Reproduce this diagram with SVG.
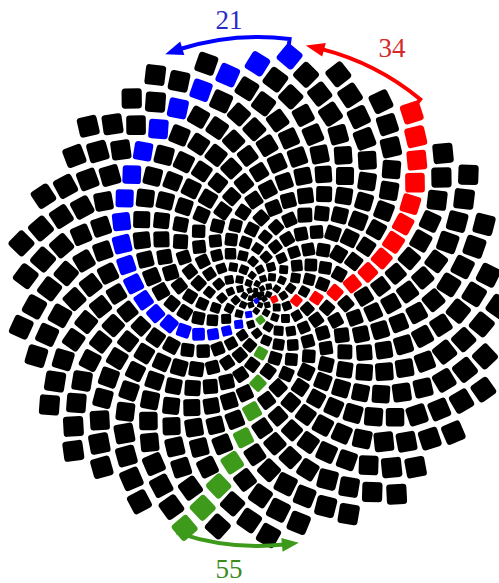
<svg xmlns="http://www.w3.org/2000/svg" width="499" height="583" viewBox="0 0 499 583">
<style>
#seeds{fill:#000}
.r{fill:#ff0000}
.b{fill:#0000ff}
.g{fill:#3d9a1b}
.arc{fill:none;stroke-width:4}
text{font-family:"Liberation Serif","Times New Roman",serif;font-size:27px;text-anchor:middle}
</style>
<defs>
<rect id="c4" x="-2.5" y="-2.5" width="5" height="5" rx="0.7" transform="rotate(32)"/>
<rect id="c5" x="-2.8" y="-2.8" width="5.6" height="5.6" rx="0.8" transform="rotate(32)"/>
<rect id="c6" x="-3.1" y="-3.1" width="6.2" height="6.2" rx="0.9" transform="rotate(32)"/>
<rect id="c7" x="-3.5" y="-3.5" width="7" height="7" rx="1" transform="rotate(55)"/>
<rect id="c8" x="-3.95" y="-3.95" width="7.9" height="7.9" rx="1.2" transform="rotate(58)"/>
<rect id="c9" x="-4.45" y="-4.45" width="8.9" height="8.9" rx="1.4" transform="rotate(50)"/>
<rect id="c10" x="-5" y="-5" width="10" height="10" rx="1.6" transform="rotate(34)"/>
<rect id="c11" x="-5.75" y="-5.75" width="11.5" height="11.5" rx="1.8" transform="rotate(32)"/>
<rect id="c12" x="-6.35" y="-6.35" width="12.7" height="12.7" rx="2" transform="rotate(32)"/>
<rect id="c13" x="-6.7" y="-6.7" width="13.4" height="13.4" rx="2.1" transform="rotate(44)"/>
<rect id="c14" x="-7.45" y="-7.45" width="14.9" height="14.9" rx="2.3" transform="rotate(58)"/>
<rect id="c15" x="-8" y="-8" width="16" height="16" rx="2.5" transform="rotate(58)"/>
<rect id="c16" x="-8.5" y="-8.5" width="17" height="17" rx="2.7" transform="rotate(58)"/>
<rect id="c17" x="-9" y="-9" width="18" height="18" rx="2.9" transform="rotate(55)"/>
<rect id="c18" x="-9.25" y="-9.25" width="18.5" height="18.5" rx="3" transform="rotate(48)"/>
<rect id="c19" x="-9.8" y="-9.8" width="19.6" height="19.6" rx="3.2" transform="rotate(35)"/>
<rect id="c20" x="-10.1" y="-10.1" width="20.2" height="20.2" rx="3.4" transform="rotate(32)"/>
</defs>
<rect width="499" height="583" fill="#fff"/>
<g id="seeds" transform="translate(258,296) rotate(141.4)">
<g>
<use href="#c4" transform="rotate(137.51)translate(1.3)"/>
<use href="#c4" transform="rotate(275.02)translate(2.3)"/>
<use href="#c4" transform="rotate(52.52)translate(3.3)"/>
<use href="#c4" transform="rotate(190.03)translate(4.2)"/>
<use href="#c4" class="b" transform="rotate(327.54)translate(5.1)"/>
<use href="#c4" transform="rotate(105.05)translate(6)"/>
<use href="#c5" transform="rotate(242.55)translate(6.8)"/>
<use href="#c5" transform="rotate(20.06)translate(7.6)"/>
<use href="#c5" transform="rotate(157.57)translate(8.4)"/>
</g>
<g transform="rotate(295.08)">
<use href="#c5" transform="translate(9.2)"/>
<use href="#c5" transform="rotate(137.51)translate(9.9)"/>
<use href="#c6" transform="rotate(275.02)translate(10.7)"/>
<use href="#c6" transform="rotate(52.52)translate(11.4)"/>
<use href="#c6" transform="rotate(190.03)translate(12.2)"/>
<use href="#c6" transform="rotate(327.54)translate(12.9)"/>
<use href="#c6" transform="rotate(105.05)translate(13.6)"/>
<use href="#c6" transform="rotate(242.55)translate(14.4)"/>
<use href="#c6" transform="rotate(20.06)translate(15.1)"/>
<use href="#c7" transform="rotate(157.57)translate(15.9)"/>
</g>
<g transform="rotate(230.16)">
<use href="#c7" class="r" transform="translate(16.6)"/>
<use href="#c7" transform="rotate(137.51)translate(17.3)"/>
<use href="#c7" transform="rotate(275.02)translate(18)"/>
<use href="#c7" transform="rotate(52.52)translate(18.6)"/>
<use href="#c7" transform="rotate(190.03)translate(19.3)"/>
<use href="#c7" transform="rotate(327.54)translate(20)"/>
<use href="#c7" class="b" transform="rotate(105.05)translate(20.7)"/>
<use href="#c7" transform="rotate(242.55)translate(21.4)"/>
<use href="#c8" transform="rotate(20.06)translate(22)"/>
<use href="#c8" transform="rotate(157.57)translate(22.7)"/>
</g>
<g transform="rotate(165.23)">
<use href="#c8" transform="translate(23.4)"/>
<use href="#c8" class="g" transform="rotate(137.51)translate(24.1)"/>
<use href="#c8" transform="rotate(275.02)translate(24.7)"/>
<use href="#c8" transform="rotate(52.52)translate(25.4)"/>
<use href="#c8" transform="rotate(190.03)translate(26)"/>
<use href="#c8" transform="rotate(327.54)translate(26.7)"/>
<use href="#c8" transform="rotate(105.05)translate(27.3)"/>
<use href="#c8" transform="rotate(242.55)translate(28)"/>
<use href="#c8" transform="rotate(20.06)translate(28.6)"/>
<use href="#c8" transform="rotate(157.57)translate(29.3)"/>
</g>
<g transform="rotate(100.31)">
<use href="#c9" transform="translate(29.9)"/>
<use href="#c9" transform="rotate(137.51)translate(30.5)"/>
<use href="#c9" transform="rotate(275.02)translate(31.2)"/>
<use href="#c9" transform="rotate(52.52)translate(31.8)"/>
<use href="#c9" transform="rotate(190.03)translate(32.4)"/>
<use href="#c9" transform="rotate(327.54)translate(33)"/>
<use href="#c9" transform="rotate(105.05)translate(33.6)"/>
<use href="#c9" class="b" transform="rotate(242.55)translate(34.3)"/>
<use href="#c9" transform="rotate(20.06)translate(34.9)"/>
<use href="#c9" transform="rotate(157.57)translate(35.5)"/>
</g>
<g transform="rotate(35.39)">
<use href="#c9" transform="translate(36.1)"/>
<use href="#c9" transform="rotate(137.51)translate(36.8)"/>
<use href="#c9" transform="rotate(275.02)translate(37.4)"/>
<use href="#c9" transform="rotate(52.52)translate(38)"/>
<use href="#c10" class="r" transform="rotate(190.03)translate(38.6)"/>
<use href="#c10" transform="rotate(327.54)translate(39.2)"/>
<use href="#c10" transform="rotate(105.05)translate(39.8)"/>
<use href="#c10" transform="rotate(242.55)translate(40.4)"/>
<use href="#c10" transform="rotate(20.06)translate(41)"/>
<use href="#c10" transform="rotate(157.57)translate(41.6)"/>
</g>
<g transform="rotate(330.47)">
<use href="#c10" transform="translate(42.2)"/>
<use href="#c10" transform="rotate(137.51)translate(42.8)"/>
<use href="#c10" transform="rotate(275.02)translate(43.4)"/>
<use href="#c10" transform="rotate(52.52)translate(44)"/>
<use href="#c10" transform="rotate(190.03)translate(44.6)"/>
<use href="#c10" transform="rotate(327.54)translate(45.2)"/>
<use href="#c10" transform="rotate(105.05)translate(45.8)"/>
<use href="#c10" transform="rotate(242.55)translate(46.3)"/>
<use href="#c10" class="b" transform="rotate(20.06)translate(46.9)"/>
<use href="#c10" transform="rotate(157.57)translate(47.5)"/>
</g>
<g transform="rotate(265.54)">
<use href="#c10" transform="translate(48.1)"/>
<use href="#c10" transform="rotate(137.51)translate(48.7)"/>
<use href="#c11" transform="rotate(275.02)translate(49.3)"/>
<use href="#c11" transform="rotate(52.52)translate(49.9)"/>
<use href="#c11" transform="rotate(190.03)translate(50.4)"/>
<use href="#c11" transform="rotate(327.54)translate(51)"/>
<use href="#c11" transform="rotate(105.05)translate(51.6)"/>
<use href="#c11" transform="rotate(242.55)translate(52.2)"/>
<use href="#c11" transform="rotate(20.06)translate(52.7)"/>
<use href="#c11" transform="rotate(157.57)translate(53.3)"/>
</g>
<g transform="rotate(200.62)">
<use href="#c11" transform="translate(53.9)"/>
<use href="#c11" transform="rotate(137.51)translate(54.5)"/>
<use href="#c11" transform="rotate(275.02)translate(55)"/>
<use href="#c11" transform="rotate(52.52)translate(55.6)"/>
<use href="#c11" transform="rotate(190.03)translate(56.2)"/>
<use href="#c11" transform="rotate(327.54)translate(56.7)"/>
<use href="#c11" class="g" transform="rotate(105.05)translate(57.3)"/>
<use href="#c11" transform="rotate(242.55)translate(57.9)"/>
<use href="#c11" class="r" transform="rotate(20.06)translate(58.4)"/>
<use href="#c11" class="b" transform="rotate(157.57)translate(59)"/>
</g>
<g transform="rotate(135.70)">
<use href="#c11" transform="translate(59.6)"/>
<use href="#c11" transform="rotate(137.51)translate(60.1)"/>
<use href="#c12" transform="rotate(275.02)translate(60.7)"/>
<use href="#c12" transform="rotate(52.52)translate(61.3)"/>
<use href="#c12" transform="rotate(190.03)translate(61.8)"/>
<use href="#c12" transform="rotate(327.54)translate(62.4)"/>
<use href="#c12" transform="rotate(105.05)translate(62.9)"/>
<use href="#c12" transform="rotate(242.55)translate(63.5)"/>
<use href="#c12" transform="rotate(20.06)translate(64)"/>
<use href="#c12" transform="rotate(157.57)translate(64.6)"/>
</g>
<g transform="rotate(70.78)">
<use href="#c12" transform="translate(65.2)"/>
<use href="#c12" transform="rotate(137.51)translate(65.7)"/>
<use href="#c12" transform="rotate(275.02)translate(66.3)"/>
<use href="#c12" transform="rotate(52.52)translate(66.8)"/>
<use href="#c12" transform="rotate(190.03)translate(67.4)"/>
<use href="#c12" transform="rotate(327.54)translate(67.9)"/>
<use href="#c12" transform="rotate(105.05)translate(68.5)"/>
<use href="#c12" transform="rotate(242.55)translate(69)"/>
<use href="#c12" transform="rotate(20.06)translate(69.6)"/>
<use href="#c12" transform="rotate(157.57)translate(70.1)"/>
</g>
<g transform="rotate(5.85)">
<use href="#c12" class="b" transform="translate(70.7)"/>
<use href="#c12" transform="rotate(137.51)translate(71.2)"/>
<use href="#c12" transform="rotate(275.02)translate(71.7)"/>
<use href="#c12" transform="rotate(52.52)translate(72.3)"/>
<use href="#c12" transform="rotate(190.03)translate(72.8)"/>
<use href="#c12" transform="rotate(327.54)translate(73.4)"/>
<use href="#c12" transform="rotate(105.05)translate(73.9)"/>
<use href="#c13" transform="rotate(242.55)translate(74.5)"/>
<use href="#c13" transform="rotate(20.06)translate(75)"/>
<use href="#c13" transform="rotate(157.57)translate(75.5)"/>
</g>
<g transform="rotate(300.93)">
<use href="#c13" transform="translate(76.1)"/>
<use href="#c13" transform="rotate(137.51)translate(76.6)"/>
<use href="#c13" class="r" transform="rotate(275.02)translate(77.2)"/>
<use href="#c13" transform="rotate(52.52)translate(77.7)"/>
<use href="#c13" transform="rotate(190.03)translate(78.2)"/>
<use href="#c13" transform="rotate(327.54)translate(78.8)"/>
<use href="#c13" transform="rotate(105.05)translate(79.3)"/>
<use href="#c13" transform="rotate(242.55)translate(79.8)"/>
<use href="#c13" transform="rotate(20.06)translate(80.4)"/>
<use href="#c13" transform="rotate(157.57)translate(80.9)"/>
</g>
<g transform="rotate(236.01)">
<use href="#c13" transform="translate(81.4)"/>
<use href="#c13" class="b" transform="rotate(137.51)translate(82)"/>
<use href="#c13" transform="rotate(275.02)translate(82.5)"/>
<use href="#c13" transform="rotate(52.52)translate(83)"/>
<use href="#c13" transform="rotate(190.03)translate(83.6)"/>
<use href="#c13" transform="rotate(327.54)translate(84.1)"/>
<use href="#c13" transform="rotate(105.05)translate(84.6)"/>
<use href="#c13" transform="rotate(242.55)translate(85.1)"/>
<use href="#c13" transform="rotate(20.06)translate(85.7)"/>
<use href="#c13" transform="rotate(157.57)translate(86.2)"/>
</g>
<g transform="rotate(171.09)">
<use href="#c13" transform="translate(86.7)"/>
<use href="#c13" class="g" transform="rotate(137.51)translate(87.3)"/>
<use href="#c13" transform="rotate(275.02)translate(87.8)"/>
<use href="#c13" transform="rotate(52.52)translate(88.3)"/>
<use href="#c13" transform="rotate(190.03)translate(88.8)"/>
<use href="#c14" transform="rotate(327.54)translate(89.4)"/>
<use href="#c14" transform="rotate(105.05)translate(89.9)"/>
<use href="#c14" transform="rotate(242.55)translate(90.4)"/>
<use href="#c14" transform="rotate(20.06)translate(90.9)"/>
<use href="#c14" transform="rotate(157.57)translate(91.4)"/>
</g>
<g transform="rotate(106.16)">
<use href="#c14" transform="translate(92)"/>
<use href="#c14" transform="rotate(137.51)translate(92.5)"/>
<use href="#c14" class="b" transform="rotate(275.02)translate(93)"/>
<use href="#c14" transform="rotate(52.52)translate(93.5)"/>
<use href="#c14" transform="rotate(190.03)translate(94)"/>
<use href="#c14" transform="rotate(327.54)translate(94.6)"/>
<use href="#c14" class="r" transform="rotate(105.05)translate(95.1)"/>
<use href="#c14" transform="rotate(242.55)translate(95.6)"/>
<use href="#c14" transform="rotate(20.06)translate(96.1)"/>
<use href="#c14" transform="rotate(157.57)translate(96.6)"/>
</g>
<g transform="rotate(41.24)">
<use href="#c14" transform="translate(97.1)"/>
<use href="#c14" transform="rotate(137.51)translate(97.7)"/>
<use href="#c14" transform="rotate(275.02)translate(98.2)"/>
<use href="#c14" transform="rotate(52.52)translate(98.7)"/>
<use href="#c14" transform="rotate(190.03)translate(99.2)"/>
<use href="#c14" transform="rotate(327.54)translate(99.7)"/>
<use href="#c14" transform="rotate(105.05)translate(100.2)"/>
<use href="#c14" transform="rotate(242.55)translate(100.7)"/>
<use href="#c14" transform="rotate(20.06)translate(101.3)"/>
<use href="#c14" transform="rotate(157.57)translate(101.8)"/>
</g>
<g transform="rotate(336.32)">
<use href="#c14" transform="translate(102.3)"/>
<use href="#c14" transform="rotate(137.51)translate(102.8)"/>
<use href="#c14" transform="rotate(275.02)translate(103.3)"/>
<use href="#c14" class="b" transform="rotate(52.52)translate(103.8)"/>
<use href="#c14" transform="rotate(190.03)translate(104.3)"/>
<use href="#c14" transform="rotate(327.54)translate(104.8)"/>
<use href="#c14" transform="rotate(105.05)translate(105.3)"/>
<use href="#c15" transform="rotate(242.55)translate(105.9)"/>
<use href="#c15" transform="rotate(20.06)translate(106.4)"/>
<use href="#c15" transform="rotate(157.57)translate(106.9)"/>
</g>
<g transform="rotate(271.40)">
<use href="#c15" transform="translate(107.4)"/>
<use href="#c15" transform="rotate(137.51)translate(107.9)"/>
<use href="#c15" transform="rotate(275.02)translate(108.4)"/>
<use href="#c15" transform="rotate(52.52)translate(108.9)"/>
<use href="#c15" transform="rotate(190.03)translate(109.4)"/>
<use href="#c15" transform="rotate(327.54)translate(109.9)"/>
<use href="#c15" transform="rotate(105.05)translate(110.4)"/>
<use href="#c15" transform="rotate(242.55)translate(110.9)"/>
<use href="#c15" transform="rotate(20.06)translate(111.4)"/>
<use href="#c15" transform="rotate(157.57)translate(111.9)"/>
</g>
<g transform="rotate(206.47)">
<use href="#c15" class="r" transform="translate(112.4)"/>
<use href="#c15" transform="rotate(137.51)translate(112.9)"/>
<use href="#c15" transform="rotate(275.02)translate(113.4)"/>
<use href="#c15" transform="rotate(52.52)translate(113.9)"/>
<use href="#c15" class="b" transform="rotate(190.03)translate(114.4)"/>
<use href="#c15" transform="rotate(327.54)translate(114.9)"/>
<use href="#c15" class="g" transform="rotate(105.05)translate(115.4)"/>
<use href="#c15" transform="rotate(242.55)translate(115.9)"/>
<use href="#c15" transform="rotate(20.06)translate(116.4)"/>
<use href="#c15" transform="rotate(157.57)translate(117)"/>
</g>
<g transform="rotate(141.55)">
<use href="#c15" transform="translate(117.5)"/>
<use href="#c15" transform="rotate(137.51)translate(118)"/>
<use href="#c15" transform="rotate(275.02)translate(118.4)"/>
<use href="#c15" transform="rotate(52.52)translate(118.9)"/>
<use href="#c15" transform="rotate(190.03)translate(119.4)"/>
<use href="#c15" transform="rotate(327.54)translate(119.9)"/>
<use href="#c15" transform="rotate(105.05)translate(120.4)"/>
<use href="#c15" transform="rotate(242.55)translate(120.9)"/>
<use href="#c15" transform="rotate(20.06)translate(121.4)"/>
<use href="#c15" transform="rotate(157.57)translate(121.9)"/>
</g>
<g transform="rotate(76.63)">
<use href="#c15" transform="translate(122.4)"/>
<use href="#c15" transform="rotate(137.51)translate(122.9)"/>
<use href="#c15" transform="rotate(275.02)translate(123.4)"/>
<use href="#c15" transform="rotate(52.52)translate(123.9)"/>
<use href="#c16" transform="rotate(190.03)translate(124.4)"/>
<use href="#c16" class="b" transform="rotate(327.54)translate(124.9)"/>
<use href="#c16" transform="rotate(105.05)translate(125.4)"/>
<use href="#c16" transform="rotate(242.55)translate(125.9)"/>
<use href="#c16" transform="rotate(20.06)translate(126.4)"/>
<use href="#c16" transform="rotate(157.57)translate(126.9)"/>
</g>
<g transform="rotate(11.71)">
<use href="#c16" transform="translate(127.4)"/>
<use href="#c16" transform="rotate(137.51)translate(127.9)"/>
<use href="#c16" transform="rotate(275.02)translate(128.3)"/>
<use href="#c16" transform="rotate(52.52)translate(128.8)"/>
<use href="#c16" class="r" transform="rotate(190.03)translate(129.3)"/>
<use href="#c16" transform="rotate(327.54)translate(129.8)"/>
<use href="#c16" transform="rotate(105.05)translate(130.3)"/>
<use href="#c16" transform="rotate(242.55)translate(130.8)"/>
<use href="#c16" transform="rotate(20.06)translate(131.3)"/>
<use href="#c16" transform="rotate(157.57)translate(131.8)"/>
</g>
<g transform="rotate(306.79)">
<use href="#c16" transform="translate(132.3)"/>
<use href="#c16" transform="rotate(137.51)translate(132.8)"/>
<use href="#c16" transform="rotate(275.02)translate(133.2)"/>
<use href="#c16" transform="rotate(52.52)translate(133.7)"/>
<use href="#c16" transform="rotate(190.03)translate(134.2)"/>
<use href="#c16" transform="rotate(327.54)translate(134.7)"/>
<use href="#c16" class="b" transform="rotate(105.05)translate(135.2)"/>
<use href="#c16" transform="rotate(242.55)translate(135.7)"/>
<use href="#c16" transform="rotate(20.06)translate(136.2)"/>
<use href="#c16" transform="rotate(157.57)translate(136.7)"/>
</g>
<g transform="rotate(241.86)">
<use href="#c16" transform="translate(137.1)"/>
<use href="#c16" transform="rotate(137.51)translate(137.6)"/>
<use href="#c16" transform="rotate(275.02)translate(138.1)"/>
<use href="#c16" transform="rotate(52.52)translate(138.6)"/>
<use href="#c16" transform="rotate(190.03)translate(139.1)"/>
<use href="#c16" transform="rotate(327.54)translate(139.6)"/>
<use href="#c16" transform="rotate(105.05)translate(140)"/>
<use href="#c16" transform="rotate(242.55)translate(140.5)"/>
<use href="#c16" transform="rotate(20.06)translate(141)"/>
<use href="#c16" transform="rotate(157.57)translate(141.5)"/>
</g>
<g transform="rotate(176.94)">
<use href="#c16" transform="translate(142)"/>
<use href="#c16" class="g" transform="rotate(137.51)translate(142.5)"/>
<use href="#c16" transform="rotate(275.02)translate(142.9)"/>
<use href="#c16" transform="rotate(52.52)translate(143.4)"/>
<use href="#c16" transform="rotate(190.03)translate(143.9)"/>
<use href="#c17" transform="rotate(327.54)translate(144.4)"/>
<use href="#c17" transform="rotate(105.05)translate(144.9)"/>
<use href="#c17" class="b" transform="rotate(242.55)translate(145.4)"/>
<use href="#c17" class="r" transform="rotate(20.06)translate(145.8)"/>
<use href="#c17" transform="rotate(157.57)translate(146.3)"/>
</g>
<g transform="rotate(112.02)">
<use href="#c17" transform="translate(146.8)"/>
<use href="#c17" transform="rotate(137.51)translate(147.3)"/>
<use href="#c17" transform="rotate(275.02)translate(147.7)"/>
<use href="#c17" transform="rotate(52.52)translate(148.2)"/>
<use href="#c17" transform="rotate(190.03)translate(148.7)"/>
<use href="#c17" transform="rotate(327.54)translate(149.2)"/>
<use href="#c17" transform="rotate(105.05)translate(149.7)"/>
<use href="#c17" transform="rotate(242.55)translate(150.1)"/>
<use href="#c17" transform="rotate(20.06)translate(150.6)"/>
<use href="#c17" transform="rotate(157.57)translate(151.1)"/>
</g>
<g transform="rotate(47.10)">
<use href="#c17" transform="translate(151.6)"/>
<use href="#c17" transform="rotate(137.51)translate(152)"/>
<use href="#c17" transform="rotate(275.02)translate(152.5)"/>
<use href="#c17" transform="rotate(52.52)translate(153)"/>
<use href="#c17" transform="rotate(190.03)translate(153.5)"/>
<use href="#c17" transform="rotate(327.54)translate(154)"/>
<use href="#c17" transform="rotate(105.05)translate(154.4)"/>
<use href="#c17" transform="rotate(242.55)translate(154.9)"/>
<use href="#c17" class="b" transform="rotate(20.06)translate(155.4)"/>
<use href="#c17" transform="rotate(157.57)translate(155.9)"/>
</g>
<g transform="rotate(342.17)">
<use href="#c17" transform="translate(156.3)"/>
<use href="#c17" transform="rotate(137.51)translate(156.8)"/>
<use href="#c17" transform="rotate(275.02)translate(157.3)"/>
<use href="#c17" transform="rotate(52.52)translate(157.8)"/>
<use href="#c17" transform="rotate(190.03)translate(158.2)"/>
<use href="#c17" transform="rotate(327.54)translate(158.7)"/>
<use href="#c17" transform="rotate(105.05)translate(159.2)"/>
<use href="#c17" transform="rotate(242.55)translate(159.7)"/>
<use href="#c17" transform="rotate(20.06)translate(160.1)"/>
<use href="#c17" transform="rotate(157.57)translate(160.6)"/>
</g>
<g transform="rotate(277.25)">
<use href="#c17" transform="translate(161.1)"/>
<use href="#c17" transform="rotate(137.51)translate(161.5)"/>
<use href="#c17" class="r" transform="rotate(275.02)translate(162)"/>
<use href="#c17" transform="rotate(52.52)translate(162.5)"/>
<use href="#c17" transform="rotate(190.03)translate(163)"/>
<use href="#c17" transform="rotate(327.54)translate(163.4)"/>
<use href="#c17" transform="rotate(105.05)translate(163.9)"/>
<use href="#c17" transform="rotate(242.55)translate(164.4)"/>
<use href="#c17" transform="rotate(20.06)translate(164.8)"/>
<use href="#c17" class="b" transform="rotate(157.57)translate(165.3)"/>
</g>
<g transform="rotate(212.33)">
<use href="#c17" transform="translate(165.8)"/>
<use href="#c18" transform="rotate(137.51)translate(166.2)"/>
<use href="#c18" transform="rotate(275.02)translate(166.7)"/>
<use href="#c18" transform="rotate(52.52)translate(167.2)"/>
<use href="#c18" transform="rotate(190.03)translate(167.6)"/>
<use href="#c18" transform="rotate(327.54)translate(168.1)"/>
<use href="#c18" class="g" transform="rotate(105.05)translate(168.6)"/>
<use href="#c18" transform="rotate(242.55)translate(169.1)"/>
<use href="#c18" transform="rotate(20.06)translate(169.5)"/>
<use href="#c18" transform="rotate(157.57)translate(170)"/>
</g>
<g transform="rotate(147.41)">
<use href="#c18" transform="translate(170.5)"/>
<use href="#c18" transform="rotate(137.51)translate(170.9)"/>
<use href="#c18" transform="rotate(275.02)translate(171.4)"/>
<use href="#c18" transform="rotate(52.52)translate(171.9)"/>
<use href="#c18" transform="rotate(190.03)translate(172.3)"/>
<use href="#c18" transform="rotate(327.54)translate(172.8)"/>
<use href="#c18" transform="rotate(105.05)translate(173.2)"/>
<use href="#c18" transform="rotate(242.55)translate(173.7)"/>
<use href="#c18" transform="rotate(20.06)translate(174.2)"/>
<use href="#c18" transform="rotate(157.57)translate(174.6)"/>
</g>
<g transform="rotate(82.48)">
<use href="#c18" class="b" transform="translate(175.1)"/>
<use href="#c18" transform="rotate(137.51)translate(175.6)"/>
<use href="#c18" transform="rotate(275.02)translate(176)"/>
<use href="#c18" transform="rotate(52.52)translate(176.5)"/>
<use href="#c18" transform="rotate(190.03)translate(177)"/>
<use href="#c18" transform="rotate(327.54)translate(177.4)"/>
<use href="#c18" class="r" transform="rotate(105.05)translate(177.9)"/>
<use href="#c18" transform="rotate(242.55)translate(178.4)"/>
<use href="#c18" transform="rotate(20.06)translate(178.8)"/>
<use href="#c18" transform="rotate(157.57)translate(179.3)"/>
</g>
<g transform="rotate(17.56)">
<use href="#c18" transform="translate(179.8)"/>
<use href="#c18" transform="rotate(137.51)translate(180.2)"/>
<use href="#c18" transform="rotate(275.02)translate(180.7)"/>
<use href="#c18" transform="rotate(52.52)translate(181.1)"/>
<use href="#c18" transform="rotate(190.03)translate(181.6)"/>
<use href="#c18" transform="rotate(327.54)translate(182.1)"/>
<use href="#c18" transform="rotate(105.05)translate(182.5)"/>
<use href="#c18" transform="rotate(242.55)translate(183)"/>
<use href="#c18" transform="rotate(20.06)translate(183.5)"/>
<use href="#c18" transform="rotate(157.57)translate(183.9)"/>
</g>
<g transform="rotate(312.64)">
<use href="#c18" transform="translate(184.4)"/>
<use href="#c18" class="b" transform="rotate(137.51)translate(184.8)"/>
<use href="#c18" transform="rotate(275.02)translate(185.3)"/>
<use href="#c18" transform="rotate(52.52)translate(185.8)"/>
<use href="#c18" transform="rotate(190.03)translate(186.2)"/>
<use href="#c18" transform="rotate(327.54)translate(186.7)"/>
<use href="#c18" transform="rotate(105.05)translate(187.1)"/>
<use href="#c18" transform="rotate(242.55)translate(187.6)"/>
<use href="#c18" transform="rotate(20.06)translate(188)"/>
<use href="#c18" transform="rotate(157.57)translate(188.5)"/>
</g>
<g transform="rotate(247.72)">
<use href="#c18" transform="translate(189)"/>
<use href="#c18" transform="rotate(137.51)translate(189.4)"/>
<use href="#c19" transform="rotate(275.02)translate(189.9)"/>
<use href="#c19" transform="rotate(52.52)translate(190.3)"/>
<use href="#c19" transform="rotate(190.03)translate(190.8)"/>
<use href="#c19" transform="rotate(327.54)translate(191.3)"/>
<use href="#c19" transform="rotate(105.05)translate(191.7)"/>
<use href="#c19" transform="rotate(242.55)translate(192.2)"/>
<use href="#c19" transform="rotate(20.06)translate(192.6)"/>
<use href="#c19" transform="rotate(157.57)translate(193.1)"/>
</g>
<g transform="rotate(182.79)">
<use href="#c19" class="r" transform="translate(193.6)"/>
<use href="#c19" class="g" transform="rotate(137.51)translate(194)"/>
<use href="#c19" class="b" transform="rotate(275.02)translate(194.5)"/>
<use href="#c19" transform="rotate(52.52)translate(194.9)"/>
<use href="#c19" transform="rotate(190.03)translate(195.4)"/>
<use href="#c19" transform="rotate(327.54)translate(195.8)"/>
<use href="#c19" transform="rotate(105.05)translate(196.3)"/>
<use href="#c19" transform="rotate(242.55)translate(196.8)"/>
<use href="#c19" transform="rotate(20.06)translate(197.2)"/>
<use href="#c19" transform="rotate(157.57)translate(197.7)"/>
</g>
<g transform="rotate(117.87)">
<use href="#c19" transform="translate(198.1)"/>
<use href="#c19" transform="rotate(137.51)translate(198.6)"/>
<use href="#c19" transform="rotate(275.02)translate(199)"/>
<use href="#c19" transform="rotate(52.52)translate(199.5)"/>
<use href="#c19" transform="rotate(190.03)translate(199.9)"/>
<use href="#c19" transform="rotate(327.54)translate(200.4)"/>
<use href="#c19" transform="rotate(105.05)translate(200.9)"/>
<use href="#c19" transform="rotate(242.55)translate(201.3)"/>
<use href="#c19" transform="rotate(20.06)translate(201.8)"/>
<use href="#c19" transform="rotate(157.57)translate(202.2)"/>
</g>
<g transform="rotate(52.95)">
<use href="#c19" transform="translate(202.7)"/>
<use href="#c19" transform="rotate(137.51)translate(203.1)"/>
<use href="#c19" transform="rotate(275.02)translate(203.6)"/>
<use href="#c19" class="b" transform="rotate(52.52)translate(204)"/>
<use href="#c19" transform="rotate(190.03)translate(204.5)"/>
<use href="#c19" transform="rotate(327.54)translate(204.9)"/>
<use href="#c19" transform="rotate(105.05)translate(205.4)"/>
<use href="#c19" transform="rotate(242.55)translate(205.8)"/>
<use href="#c19" transform="rotate(20.06)translate(206.3)"/>
<use href="#c19" transform="rotate(157.57)translate(206.7)"/>
</g>
<g transform="rotate(348.03)">
<use href="#c19" transform="translate(207.2)"/>
<use href="#c19" transform="rotate(137.51)translate(207.6)"/>
<use href="#c19" transform="rotate(275.02)translate(208.1)"/>
<use href="#c19" transform="rotate(52.52)translate(208.5)"/>
<use href="#c19" class="r" transform="rotate(190.03)translate(209)"/>
<use href="#c19" transform="rotate(327.54)translate(209.4)"/>
<use href="#c19" transform="rotate(105.05)translate(209.9)"/>
<use href="#c19" transform="rotate(242.55)translate(210.3)"/>
<use href="#c19" transform="rotate(20.06)translate(210.8)"/>
<use href="#c19" transform="rotate(157.57)translate(211.2)"/>
</g>
<g transform="rotate(283.10)">
<use href="#c19" transform="translate(211.7)"/>
<use href="#c19" transform="rotate(137.51)translate(212.1)"/>
<use href="#c19" transform="rotate(275.02)translate(212.6)"/>
<use href="#c19" transform="rotate(52.52)translate(213)"/>
<use href="#c19" class="b" transform="rotate(190.03)translate(213.5)"/>
<use href="#c19" transform="rotate(327.54)translate(213.9)"/>
<use href="#c19" transform="rotate(105.05)translate(214.4)"/>
<use href="#c19" transform="rotate(242.55)translate(214.8)"/>
<use href="#c20" transform="rotate(20.06)translate(215.3)"/>
<use href="#c20" transform="rotate(157.57)translate(215.7)"/>
</g>
<g transform="rotate(218.18)">
<use href="#c20" transform="translate(216.2)"/>
<use href="#c20" transform="rotate(137.51)translate(216.6)"/>
<use href="#c20" transform="rotate(275.02)translate(217.1)"/>
<use href="#c20" transform="rotate(52.52)translate(217.5)"/>
<use href="#c20" transform="rotate(190.03)translate(218)"/>
<use href="#c20" transform="rotate(327.54)translate(218.4)"/>
<use href="#c20" class="g" transform="rotate(105.05)translate(218.9)"/>
<use href="#c20" transform="rotate(242.55)translate(219.3)"/>
<use href="#c20" transform="rotate(20.06)translate(219.8)"/>
<use href="#c20" transform="rotate(157.57)translate(220.2)"/>
</g>
<g transform="rotate(153.26)">
<use href="#c20" transform="translate(220.7)"/>
<use href="#c20" transform="rotate(137.51)translate(221.1)"/>
<use href="#c20" transform="rotate(275.02)translate(221.5)"/>
<use href="#c20" transform="rotate(52.52)translate(222)"/>
<use href="#c20" transform="rotate(190.03)translate(222.4)"/>
<use href="#c20" class="b" transform="rotate(327.54)translate(222.9)"/>
<use href="#c20" transform="rotate(105.05)translate(223.3)"/>
<use href="#c20" transform="rotate(242.55)translate(223.8)"/>
<use href="#c20" class="r" transform="rotate(20.06)translate(224.2)"/>
<use href="#c20" transform="rotate(157.57)translate(224.7)"/>
</g>
<g transform="rotate(88.34)">
<use href="#c20" transform="translate(225.1)"/>
<use href="#c20" transform="rotate(137.51)translate(225.6)"/>
<use href="#c20" transform="rotate(275.02)translate(226)"/>
<use href="#c20" transform="rotate(52.52)translate(226.4)"/>
<use href="#c20" transform="rotate(190.03)translate(226.9)"/>
<use href="#c20" transform="rotate(327.54)translate(227.3)"/>
<use href="#c20" transform="rotate(105.05)translate(227.8)"/>
<use href="#c20" transform="rotate(242.55)translate(228.2)"/>
<use href="#c20" transform="rotate(20.06)translate(228.7)"/>
<use href="#c20" transform="rotate(157.57)translate(229.1)"/>
</g>
<g transform="rotate(23.41)">
<use href="#c20" transform="translate(229.6)"/>
<use href="#c20" transform="rotate(137.51)translate(230)"/>
<use href="#c20" transform="rotate(275.02)translate(230.5)"/>
<use href="#c20" transform="rotate(52.52)translate(230.9)"/>
<use href="#c20" transform="rotate(190.03)translate(231.3)"/>
<use href="#c20" transform="rotate(327.54)translate(231.8)"/>
<use href="#c20" class="b" transform="rotate(105.05)translate(232.2)"/>
<use href="#c20" transform="rotate(242.55)translate(232.7)"/>
<use href="#c20" transform="rotate(20.06)translate(233.1)"/>
<use href="#c20" transform="rotate(157.57)translate(233.6)"/>
</g>
<g transform="rotate(318.49)">
<use href="#c20" transform="translate(234)"/>
<use href="#c20" transform="rotate(137.51)translate(234.4)"/>
<use href="#c20" transform="rotate(275.02)translate(234.9)"/>
<use href="#c20" transform="rotate(52.52)translate(235.3)"/>
<use href="#c20" transform="rotate(190.03)translate(235.8)"/>
<use href="#c20" transform="rotate(327.54)translate(236.2)"/>
<use href="#c20" transform="rotate(105.05)translate(236.6)"/>
<use href="#c20" transform="rotate(242.55)translate(237.1)"/>
<use href="#c20" transform="rotate(20.06)translate(237.5)"/>
<use href="#c20" transform="rotate(157.57)translate(237.9)"/>
</g>
<g transform="rotate(253.57)">
<use href="#c20" transform="translate(238.4)"/>
<use href="#c20" transform="rotate(137.51)translate(238.8)"/>
<use href="#c20" class="r" transform="rotate(275.02)translate(239.3)"/>
<use href="#c20" transform="rotate(52.52)translate(239.7)"/>
<use href="#c20" transform="rotate(190.03)translate(240.1)"/>
<use href="#c20" transform="rotate(327.54)translate(240.6)"/>
<use href="#c20" transform="rotate(105.05)translate(241)"/>
<use href="#c20" class="b" transform="rotate(242.55)translate(241.5)"/>
<use href="#c20" transform="rotate(20.06)translate(241.9)"/>
<use href="#c20" transform="rotate(157.57)translate(242.3)"/>
</g>
<g transform="rotate(188.65)">
<use href="#c20" transform="translate(242.8)"/>
<use href="#c20" class="g" transform="rotate(137.51)translate(243.2)"/>
<use href="#c20" transform="rotate(275.02)translate(243.7)"/>
<use href="#c20" transform="rotate(52.52)translate(244.1)"/>
</g>
</g>
<g id="connectors">
<path class="arc" stroke="#0000ff" d="M288.8,44.9 L289.6,38.9 A259,259 0 0 0 180.1,49"/>
<polygon fill="#0000ff" points="165.2,54.2 180.2,41.6 184.3,55"/>
<path class="arc" stroke="#ff0000" d="M416.4,103.9 L420.2,99.2 A255,255 0 0 0 321.9,49.1"/>
<polygon fill="#ff0000" points="305.8,45.5 325.8,42.9 322.2,56.5"/>
<path class="arc" stroke="#3d9a1b" d="M179.9,529.3 L178.7,533.1 A250,250 0 0 0 284.1,544.6"/>
<polygon fill="#3d9a1b" points="298.8,542.7 281.3,537.9 282.6,551.8"/>
</g>
<g id="labels">
<text x="229" y="29" fill="#2b2bc4">21</text>
<text x="392" y="57" fill="#d42a2a">34</text>
<text x="229" y="578" fill="#3b8c1c">55</text>
</g>
</svg>
